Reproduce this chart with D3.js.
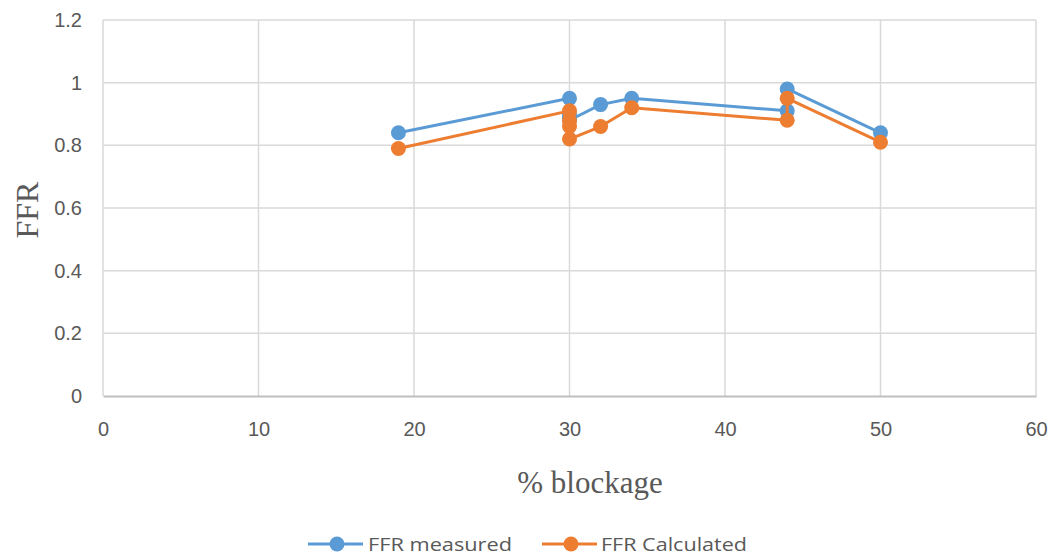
<!DOCTYPE html>
<html>
<head>
<meta charset="utf-8">
<script src="https://cdn.jsdelivr.net/npm/d3@7"></script>
<style>
  html, body { margin: 0; padding: 0; background: #fff; }
  svg { display: block; }
</style>
</head>
<body>
<svg id="chart" width="1054" height="558"></svg>
<script>
// % blockage for each measurement (shared by both series)
const blockage = [19, 30, 30, 30, 30, 32, 34, 44, 44, 50];
// FFR values
const ffrMeasured   = [0.84, 0.95, 0.90, 0.89, 0.88, 0.93, 0.95, 0.91, 0.98, 0.84];
const ffrCalculated = [0.79, 0.91, 0.88, 0.86, 0.82, 0.86, 0.92, 0.88, 0.95, 0.81];
const seriesNames = ["FFR measured", "FFR Calculated"];
const seriesColors = ["#5b9bd5", "#ed7d31"];
const xTicks = [0, 10, 20, 30, 40, 50, 60];
const yTicks = [0, 0.2, 0.4, 0.6, 0.8, 1, 1.2];

const svg = d3.select("#chart");
const plot = { left: 103, right: 1036, top: 20, bottom: 396 };

const x = d3.scaleLinear().domain([0, 60]).range([plot.left, plot.right]);
const y = d3.scaleLinear().domain([0, 1.2]).range([plot.bottom, plot.top]);

const tickFont = "'Liberation Sans', Arial, sans-serif";
const textColor = "#595959";

// Grid lines
svg.append("g").selectAll("line").data(yTicks.filter(d => d > 0)).join("line")
  .attr("x1", plot.left).attr("x2", plot.right)
  .attr("y1", d => y(d)).attr("y2", d => y(d))
  .attr("stroke", "#d9d9d9").attr("stroke-width", 1.5);
svg.append("g").selectAll("line").data(xTicks).join("line")
  .attr("x1", d => x(d)).attr("x2", d => x(d))
  .attr("y1", plot.top).attr("y2", plot.bottom)
  .attr("stroke", "#d9d9d9").attr("stroke-width", 1.5);

// Axes
const xAxis = svg.append("g").attr("transform", `translate(0,${plot.bottom})`)
  .call(d3.axisBottom(x).tickValues(xTicks).tickSize(0).tickPadding(26).tickFormat(d3.format("d")));
xAxis.select(".domain").attr("stroke", "#bfbfbf").attr("stroke-width", 2);
xAxis.selectAll("text").attr("fill", textColor).style("font-family", tickFont).style("font-size", "20px");

const yAxis = svg.append("g").attr("transform", `translate(${plot.left},0)`)
  .call(d3.axisLeft(y).tickValues(yTicks).tickSize(0).tickPadding(21).tickFormat(d => String(d)));
yAxis.select(".domain").remove();
yAxis.selectAll("text").attr("fill", textColor).style("font-family", tickFont).style("font-size", "20px");

// Axis titles
svg.append("text").attr("x", 590).attr("y", 493).attr("text-anchor", "middle")
  .attr("fill", textColor).style("font-family", "'Liberation Serif', serif").style("font-size", "31px")
  .text("% blockage");
svg.append("text").attr("transform", "translate(38,210) rotate(-90)").attr("text-anchor", "middle")
  .attr("fill", textColor).style("font-family", "'Liberation Serif', serif").style("font-size", "32px")
  .text("FFR");

// Series
const seriesData = [ffrMeasured, ffrCalculated];
const line = d3.line().x(d => x(d[0])).y(d => y(d[1]));
seriesData.forEach((vals, i) => {
  const pts = blockage.map((b, j) => [b, vals[j]]);
  const g = svg.append("g");
  g.append("path").datum(pts).attr("d", line)
    .attr("fill", "none").attr("stroke", seriesColors[i]).attr("stroke-width", 3)
    .attr("stroke-linejoin", "round");
  g.selectAll("circle").data(pts).join("circle")
    .attr("cx", d => x(d[0])).attr("cy", d => y(d[1])).attr("r", 7.5)
    .attr("fill", seriesColors[i]);
});

// Legend
const legendItems = [{x0: 308, tx: 368, w: 144}, {x0: 542, tx: 601, w: 146}];
legendItems.forEach((it, i) => {
  const g = svg.append("g");
  g.append("line").attr("x1", it.x0).attr("x2", it.x0 + 55).attr("y1", 544).attr("y2", 544)
    .attr("stroke", seriesColors[i]).attr("stroke-width", 3);
  g.append("circle").attr("cx", it.x0 + 29).attr("cy", 544).attr("r", 7.5).attr("fill", seriesColors[i]);
  g.append("text").attr("x", it.tx).attr("y", 551).attr("fill", textColor)
    .attr("textLength", it.w).attr("lengthAdjust", "spacingAndGlyphs")
    .style("font-family", "'Open Sans', sans-serif").style("font-size", "19px")
    .text(seriesNames[i]);
});
</script>
</body>
</html>
